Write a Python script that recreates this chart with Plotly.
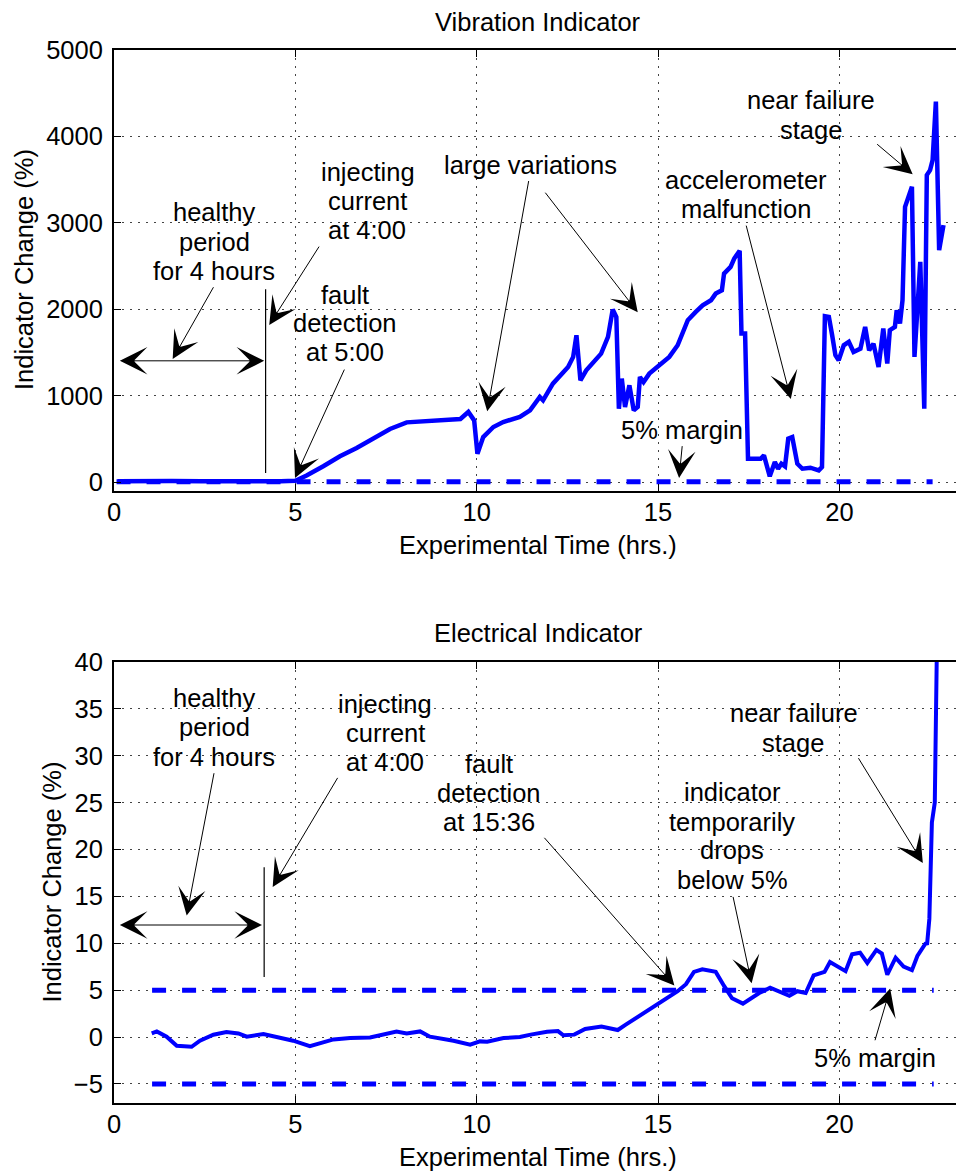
import plotly.graph_objects as go

# ---------------- data ----------------
vib_time = [0.1, 0.8, 1.6, 2.4, 3.2, 4.0, 4.6, 5.0, 5.31, 5.77,
            6.23, 6.69, 7.15, 7.61, 8.07, 8.53, 8.99, 9.26, 9.55, 9.77,
            9.93, 10.02, 10.18, 10.46, 10.73, 11.19, 11.47, 11.74, 11.83, 12.1,
            12.52, 12.66, 12.75, 12.86, 13.02, 13.43, 13.62, 13.75, 13.85, 13.92,
            14.0, 14.09, 14.21, 14.33, 14.44, 14.5, 14.6, 14.76, 15.04, 15.31,
            15.54, 15.68, 15.82, 16.04, 16.23, 16.46, 16.59, 16.76, 16.82, 17.0,
            17.1, 17.25, 17.3, 17.4, 17.48, 17.83, 17.92, 18.08, 18.22, 18.31,
            18.4, 18.5, 18.59, 18.7, 18.84, 18.98, 19.2, 19.43, 19.52, 19.6,
            19.71, 19.8, 19.89, 19.98, 20.12, 20.26, 20.39, 20.58, 20.71, 20.82,
            20.94, 21.08, 21.21, 21.32, 21.39, 21.53, 21.58, 21.67, 21.74, 21.81,
            22.0, 22.07, 22.23, 22.34, 22.41, 22.5, 22.57, 22.66, 22.75, 22.87]
vib_change = [10, 5, 12, 8, 6, 10, 8, 15, 75, 183,
              298, 395, 499, 614, 691, 702, 722, 722, 730, 811,
              714, 328, 521, 637, 695, 753, 830, 985, 946, 1139,
              1332, 1448, 1699, 1178, 1293, 1486, 1680, 1996, 1911, 849,
              1197, 869, 1120, 830, 869, 1216, 1158, 1255, 1351, 1448,
              1583, 1718, 1873, 1969, 2046, 2104, 2181, 2220, 2413, 2490,
              2587, 2676, 1718, 1718, 270, 270, 309, 66, 232, 154,
              212, 181, 502, 521, 212, 154, 166, 135, 174, 1919,
              1911, 1699, 1467, 1409, 1583, 1622, 1506, 1544, 1795, 1525,
              1602, 1332, 1776, 1371, 1757, 1795, 1988, 1834, 2104, 3185,
              3417, 1448, 2548, 849, 3552, 3610, 3726, 4402, 2683, 2973]

elec_time = [1.04, 1.18, 1.45, 1.73, 2.14, 2.37, 2.74, 3.1, 3.43, 3.66,
             4.12, 4.67, 4.94, 5.4, 6.05, 6.51, 7.06, 7.79, 8.07, 8.44,
             8.71, 9.36, 9.82, 10.09, 10.29, 10.74, 11.19, 11.49, 11.94, 12.24,
             12.39, 12.69, 12.99, 13.44, 13.74, 13.89, 14.11, 14.49, 14.94, 15.32,
             15.54, 15.77, 15.99, 16.22, 16.59, 16.82, 17.04, 17.34, 17.57, 17.79,
             18.09, 18.32, 18.62, 18.84, 19.07, 19.29, 19.59, 19.74, 19.97, 20.17,
             20.35, 20.57, 20.77, 21.02, 21.17, 21.32, 21.55, 21.77, 22.0, 22.15,
             22.37, 22.42, 22.48, 22.55, 22.63, 22.7]
elec_change = [0.39, 0.6, 0.04, -0.93, -1.04, -0.39, 0.25, 0.54, 0.39, 0.04,
               0.32, -0.1, -0.39, -0.96, -0.25, -0.1, -0.04, 0.6, 0.39, 0.6,
               0.04, -0.39, -0.82, -0.46, -0.49, -0.11, 0, 0.26, 0.56, 0.64,
               0.19, 0.26, 0.86, 1.13, 0.86, 0.75, 1.32, 2.26, 3.38, 4.4,
               4.89, 5.64, 6.95, 7.22, 6.95, 5.45, 4.14, 3.57, 4.14, 4.7,
               5.26, 4.89, 4.4, 4.89, 4.7, 6.58, 6.95, 8.0, 7.52, 7.03,
               8.83, 9.0, 7.9, 9.29, 8.9, 6.65, 8.46, 7.52, 7.14, 8.65,
               9.96, 10.0, 12.6, 22.9, 25.0, 45]

vib_margin_time = [0.07, 22.57]
vib_margin_level = [5, 5]
elec_margin_time = [1.05, 22.6]
elec_margin_upper = [5, 5]
elec_margin_lower = [-5, -5]

x_ticks = [0, 5, 10, 15, 20]
vib_ticks = [0, 1000, 2000, 3000, 4000, 5000]
elec_ticks = [-5, 0, 5, 10, 15, 20, 25, 30, 35, 40]

# ---------------- figure ----------------
W, H = 956, 1171
FONT = "Liberation Sans, Arial, Helvetica, sans-serif"
FS = 25.5
BLUE = "#0000ff"

fig = go.Figure()
fig.add_trace(go.Scatter(x=vib_time, y=vib_change, mode="lines",
                         line=dict(color=BLUE, width=4.5), xaxis="x", yaxis="y",
                         showlegend=False, hoverinfo="skip"))
fig.add_trace(go.Scatter(x=vib_margin_time, y=vib_margin_level, mode="lines",
                         line=dict(color=BLUE, width=5, dash="14px,16px"),
                         xaxis="x", yaxis="y", showlegend=False, hoverinfo="skip"))
fig.add_trace(go.Scatter(x=elec_time, y=elec_change, mode="lines",
                         line=dict(color=BLUE, width=4), xaxis="x2", yaxis="y2",
                         showlegend=False, hoverinfo="skip"))
for lvl in (elec_margin_upper, elec_margin_lower):
    fig.add_trace(go.Scatter(x=elec_margin_time, y=lvl, mode="lines",
                             line=dict(color=BLUE, width=5, dash="14px,16px"),
                             xaxis="x2", yaxis="y2", showlegend=False, hoverinfo="skip"))

top_dom = [1 - 490.7 / H, 1 - 50 / H]
bot_dom = [1 - 1102.7 / H, 1 - 662 / H]

xrange_ = [0, (956 - 114) / 36.27]

axis_common = dict(showline=True, linecolor="black", linewidth=2,
                   ticks="inside", ticklen=7, tickwidth=1, tickcolor="black",
                   showgrid=True, gridcolor="#444444", gridwidth=1, griddash="2px,6px",
                   zeroline=False, tickfont=dict(family=FONT, size=FS, color="black"))

fig.update_layout(
    width=W, height=H,
    margin=dict(l=114, r=0, t=0, b=0, autoexpand=False),
    paper_bgcolor="white", plot_bgcolor="white",
    xaxis=dict(domain=[0, 1], anchor="y", range=xrange_, tickvals=x_ticks,
               mirror="ticks", ticklabelstandoff=-2, **axis_common),
    yaxis=dict(domain=top_dom, anchor="x", range=[-100, 5000], tickvals=vib_ticks,
               mirror=False, ticklabelstandoff=4, **axis_common),
    xaxis2=dict(domain=[0, 1], anchor="y2", range=xrange_, tickvals=x_ticks,
                mirror="ticks", ticklabelstandoff=-2, **axis_common),
    yaxis2=dict(domain=bot_dom, anchor="x2", range=[-7, 40], tickvals=elec_ticks,
                mirror=False, ticklabelstandoff=4, **axis_common),
)

# vertical markers (start of current injection)
fig.add_shape(type="line", xref="x", yref="y", x0=4.18, x1=4.18, y0=106, y1=2231,
              line=dict(color="black", width=1.2))
fig.add_shape(type="line", xref="x2", yref="y2", x0=4.14, x1=4.14, y0=6.4, y1=18.1,
              line=dict(color="black", width=1.2))

anns = []

def txt(s, x, y, xr, yr):
    anns.append(dict(text=s, x=x, y=y, xref=xr, yref=yr, showarrow=False,
                     xanchor="center", yanchor="middle",
                     font=dict(family=FONT, size=FS, color="black")))

AS = 4.6

def arrow(tx, ty, hx, hy, xr, yr, both=False):
    a = dict(text="", x=hx, y=hy, ax=tx, ay=ty, xref=xr, yref=yr, axref=xr, ayref=yr,
             showarrow=True, arrowhead=3, arrowsize=AS, arrowwidth=1,
             arrowcolor="black", standoff=0, startstandoff=0)
    if both:
        a.update(arrowside="end+start", startarrowhead=3, startarrowsize=AS)
    anns.append(a)

# ---- top panel texts ----
for s, x, y in [("healthy", 2.757, 3129), ("period", 2.757, 2783), ("for 4 hours", 2.757, 2442),
                ("injecting", 6.99, 3591), ("current", 6.99, 3256), ("at 4:00", 6.98, 2916),
                ("fault", 6.38, 2165), ("detection", 6.37, 1842), ("at 5:00", 6.37, 1507),
                ("large variations", 11.47, 3666),
                ("accelerometer", 17.42, 3493), ("malfunction", 17.42, 3164),
                ("near failure", 19.22, 4423), ("stage", 19.22, 4076),
                ("5% margin", 15.66, 606)]:
    txt(s, x, y, "x", "y")

for tx, ty, hx, hy in [(2.765, 2272, 1.618, 1423),
                       (5.68, 2742, 4.28, 1819),
                       (6.37, 1319, 4.99, 48),
                       (11.44, 3501, 10.29, 818),
                       (11.86, 3366, 14.44, 1965),
                       (17.42, 2985, 18.66, 961),
                       (21.0, 3924, 22.02, 3562),
                       (15.67, 433, 15.58, 48)]:
    arrow(tx, ty, hx, hy, "x", "y")
arrow(0.12, 1403, 4.14, 1403, "x", "y", both=True)

# ---- bottom panel texts ----
for s, x, y in [("healthy", 2.757, 36.15), ("period", 2.757, 33.05), ("for 4 hours", 2.757, 29.9),
                ("injecting", 7.48, 35.5), ("current", 7.48, 32.43), ("at 4:00", 7.48, 29.3),
                ("fault", 10.35, 29.12), ("detection", 10.35, 26.03), ("at 15:36", 10.35, 22.92),
                ("indicator", 17.06, 26.16), ("temporarily", 17.05, 22.95),
                ("drops", 17.05, 19.93), ("below 5%", 17.05, 16.79),
                ("near failure", 18.75, 34.55), ("stage", 18.73, 31.4),
                ("5% margin", 20.97, -2.27)]:
    txt(s, x, y, "x2", "y2")

for tx, ty, hx, hy in [(2.765, 28.3, 2.004, 12.97),
                       (6.19, 27.8, 4.375, 16.0),
                       (11.83, 21.41, 15.45, 5.5),
                       (17.06, 15.11, 17.58, 5.73),
                       (20.5, 29.9, 22.3, 18.57),
                       (20.97, -0.5, 21.4, 5.17)]:
    arrow(tx, ty, hx, hy, "x2", "y2")
arrow(0.12, 11.95, 4.08, 11.95, "x2", "y2", both=True)

# ---- titles and axis titles ----
def paper_txt(s, px, py, angle=0):
    anns.append(dict(text=s, x=(px - 114) / (W - 114), y=(H - py) / H,
                     xref="paper", yref="paper", showarrow=False, textangle=angle,
                     xanchor="center", yanchor="middle",
                     font=dict(family=FONT, size=FS, color="black")))

paper_txt("Vibration Indicator", 538, 21.5)
paper_txt("Experimental Time (hrs.)", 538, 544.5)
paper_txt("Indicator Change (%)", 24, 270, -90)
paper_txt("Electrical Indicator", 538, 633.3)
paper_txt("Experimental Time (hrs.)", 538, 1156.5)
paper_txt("Indicator Change (%)", 51.5, 882, -90)

fig.update_layout(annotations=anns)

fig.write_html("out.html")
